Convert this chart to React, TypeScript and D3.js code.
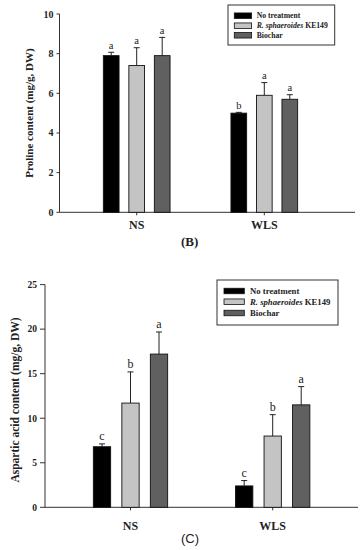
import React from "react";
import * as d3 from "d3";

const groups = ["NS", "WLS"];
const treatments = ["No treatment", "R. sphaeroides KE149", "Biochar"];
const colors = ["#000000", "#c4c4c4", "#606060"];

const prolineMeans = [[7.9, 7.4, 7.9], [5.0, 5.9, 5.7]];
const prolineErrs = [[0.17, 0.9, 0.92], [0.04, 0.64, 0.23]];
const prolineLetters = [["a", "a", "a"], ["b", "a", "a"]];
const prolineTicks = [0, 2, 4, 6, 8, 10];

const asparticMeans = [[6.8, 11.7, 17.2], [2.4, 8.0, 11.5]];
const asparticErrs = [[0.32, 3.5, 2.48], [0.6, 2.4, 2.05]];
const asparticLetters = [["c", "b", "a"], ["c", "b", "a"]];
const asparticTicks = [0, 5, 10, 15, 20, 25];

const serif = "'Liberation Serif', 'Times New Roman', serif";

type Cfg = {
  means: number[][];
  errs: number[][];
  letters: string[][];
  ticks: number[];
  yMax: number;
  yBottom: number;
  yTop: number;
  axisLeft: number;
  axisRight: number;
  centers: [number, number];
  barW: number;
  step: number;
  tickLen: number;
  tickFont: number;
  yLabel: string;
  yLabelX: number;
  yLabelY: number;
  yLabelFont: number;
  xLabelY: number;
  xLabelFont: number;
  letterFont: number;
  caption: string;
  captionX: number;
  captionY: number;
  captionFont: number;
  captionFamily: string;
  captionWeight: string;
  legend: { x0: number; y0: number; x1: number; y1: number; sx: number; sw: number; sh: number; tx: number; rows: number[]; font: number };
};

function Chart({ c }: { c: Cfg }) {
  const y = d3.scaleLinear().domain([0, c.yMax]).range([c.yBottom, c.yTop]);
  const x = d3.scalePoint<string>().domain(groups).range(c.centers);
  const L = c.legend;
  return (
    <g>
      {/* y axis */}
      <line x1={c.axisLeft} x2={c.axisLeft} y1={y(0)} y2={y(c.yMax)} stroke="#333" strokeWidth={1} />
      {c.ticks.map((t) => (
        <g key={t}>
          <line x1={c.axisLeft - c.tickLen} x2={c.axisLeft} y1={y(t)} y2={y(t)} stroke="#333" strokeWidth={1} />
          <text x={c.axisLeft - c.tickLen - 3} y={y(t)} dy="0.35em" textAnchor="end" fontFamily={serif} fontWeight="bold" fontSize={c.tickFont} fill="#222">
            {t}
          </text>
        </g>
      ))}
      {/* x axis */}
      <line x1={c.axisLeft} x2={c.axisRight} y1={y(0)} y2={y(0)} stroke="#333" strokeWidth={1} />
      {groups.map((g) => (
        <g key={g}>
          <line x1={x(g)!} x2={x(g)!} y1={y(0)} y2={y(0) + 3} stroke="#333" strokeWidth={1} />
          <text x={x(g)!} y={c.xLabelY} textAnchor="middle" fontFamily={serif} fontWeight="bold" fontSize={c.xLabelFont} fill="#222">
            {g}
          </text>
        </g>
      ))}
      {/* bars */}
      {groups.map((g, gi) =>
        treatments.map((t, ti) => {
          const cx = x(g)! + (ti - 1) * c.step;
          const v = c.means[gi][ti];
          const e = c.errs[gi][ti];
          const top = y(v + e);
          return (
            <g key={g + t}>
              <line x1={cx} x2={cx} y1={y(v)} y2={top} stroke="#222" strokeWidth={1} />
              <line x1={cx - 3} x2={cx + 3} y1={top} y2={top} stroke="#222" strokeWidth={1} />
              <rect x={cx - c.barW / 2} y={y(v)} width={c.barW} height={y(0) - y(v)} fill={colors[ti]} stroke="#111" strokeWidth={0.9} />
              <text x={cx} y={top - 3.5} textAnchor="middle" fontFamily={serif} fontSize={c.letterFont} fill="#222">
                {c.letters[gi][ti]}
              </text>
            </g>
          );
        })
      )}
      {/* y label */}
      <text
        transform={`translate(${c.yLabelX},${c.yLabelY}) rotate(-90)`}
        textAnchor="middle"
        dy="0.35em"
        fontFamily={serif}
        fontWeight="bold"
        fontSize={c.yLabelFont}
        fill="#222"
      >
        {c.yLabel}
      </text>
      {/* legend */}
      <rect x={L.x0} y={L.y0} width={L.x1 - L.x0} height={L.y1 - L.y0} fill="#fff" stroke="#333" strokeWidth={1} />
      {treatments.map((t, ti) => (
        <g key={t}>
          <rect x={L.sx} y={L.rows[ti] - L.sh / 2} width={L.sw} height={L.sh} fill={colors[ti]} stroke="#111" strokeWidth={0.8} />
          <text x={L.tx} y={L.rows[ti]} dy="0.35em" fontFamily={serif} fontWeight="bold" fontSize={L.font} fill="#222">
            {t.startsWith("R. ") ? (
              <>
                <tspan fontStyle="italic">R. sphaeroides</tspan>
                <tspan> KE149</tspan>
              </>
            ) : (
              t
            )}
          </text>
        </g>
      ))}
      <text x={c.captionX} y={c.captionY} textAnchor="middle" fontFamily={c.captionFamily} fontWeight={c.captionWeight} fontSize={c.captionFont} fill="#222">
        {c.caption}
      </text>
    </g>
  );
}

const top: Cfg = {
  means: prolineMeans,
  errs: prolineErrs,
  letters: prolineLetters,
  ticks: prolineTicks,
  yMax: 10,
  yBottom: 212.3,
  yTop: 14,
  axisLeft: 59.5,
  axisRight: 355,
  centers: [136.7, 264.3],
  barW: 15.7,
  step: 25.5,
  tickLen: 3,
  tickFont: 10,
  yLabel: "Proline content (mg/g, DW)",
  yLabelX: 29,
  yLabelY: 113,
  yLabelFont: 11,
  xLabelY: 229,
  xLabelFont: 12,
  letterFont: 10.5,
  caption: "(B)",
  captionX: 189.7,
  captionY: 246,
  captionFont: 13,
  captionFamily: serif,
  captionWeight: "bold",
  legend: { x0: 228, y0: 5, x1: 334.7, y1: 45, sx: 234.3, sw: 17.3, sh: 5.5, tx: 256.7, rows: [15.7, 25.7, 35.3], font: 7.7 },
};

const bottom: Cfg = {
  means: asparticMeans,
  errs: asparticErrs,
  letters: asparticLetters,
  ticks: asparticTicks,
  yMax: 25,
  yBottom: 507.3,
  yTop: 284.6,
  axisLeft: 45,
  axisRight: 358,
  centers: [130.5, 272.7],
  barW: 17.3,
  step: 28.5,
  tickLen: 5,
  tickFont: 9.5,
  yLabel: "Aspartic acid content (mg/g, DW)",
  yLabelX: 15,
  yLabelY: 400,
  yLabelFont: 11.5,
  xLabelY: 530,
  xLabelFont: 12,
  letterFont: 12,
  caption: "(C)",
  captionX: 190,
  captionY: 543,
  captionFont: 13,
  captionFamily: "'Liberation Sans', Arial, sans-serif",
  captionWeight: "normal",
  legend: { x0: 217, y0: 280, x1: 338, y1: 325, sx: 224, sw: 20.3, sh: 5.5, tx: 250, rows: [291, 301.7, 313], font: 8.7 },
};

export default function App() {
  return (
    <svg width={364} height={550} style={{ position: "absolute", left: 0, top: 0, background: "#fff" }}>
      <rect width={364} height={550} fill="#fff" />
      <Chart c={top} />
      <Chart c={bottom} />
    </svg>
  );
}
